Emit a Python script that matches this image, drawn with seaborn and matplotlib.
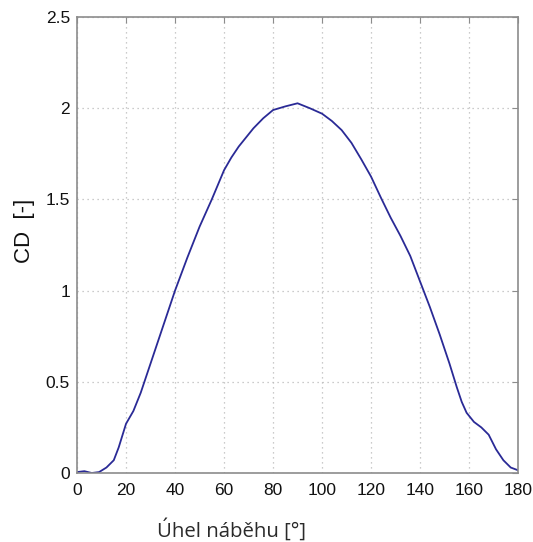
import pandas as pd
import matplotlib.pyplot as plt
import seaborn as sns

# Drag coefficient vs. angle of attack
angle = [0, 3, 6, 9, 12, 15, 17, 20, 23, 26, 30, 36, 40, 45, 50, 55, 60, 63,
         66, 69, 72, 76, 80, 85, 90, 95, 100, 104, 108, 112, 116, 120, 124,
         128, 132, 136, 140, 144, 148, 152, 155, 157, 159, 162, 165, 168, 171,
         174, 177, 180]
cd = [0.005, 0.01, 0.0, 0.005, 0.03, 0.07, 0.14, 0.27, 0.34, 0.44, 0.60, 0.84,
      1.00, 1.18, 1.35, 1.50, 1.66, 1.73, 1.79, 1.84, 1.89, 1.945, 1.99, 2.01,
      2.027, 2.00, 1.97, 1.93, 1.88, 1.81, 1.72, 1.625, 1.51, 1.40, 1.30,
      1.19, 1.05, 0.91, 0.76, 0.60, 0.47, 0.39, 0.33, 0.28, 0.25, 0.21, 0.13,
      0.07, 0.03, 0.015]

df = pd.DataFrame({'angle': angle, 'cd': cd})

sns.set_style("white")
plt.rcParams['font.family'] = ['Liberation Sans', 'DejaVu Sans']

fig = plt.figure(figsize=(5.33, 5.42), dpi=100)
ax = fig.add_axes([0.1445, 0.1273, 0.8275, 0.8413])

sns.lineplot(data=df, x='angle', y='cd', color='#2a2a96', linewidth=1.3, ax=ax)

ax.set_xlim(0, 180)
ax.set_ylim(0, 2.5)
ax.set_xticks(range(0, 181, 20))
ax.set_yticks([0, 0.5, 1, 1.5, 2, 2.5])
ax.set_yticklabels(['0', '0.5', '1', '1.5', '2', '2.5'])
ax.grid(True, linestyle=(0, (1, 3)), color='#bbbbbb', linewidth=0.9)

for s in ax.spines.values():
    s.set_color('#8c8c8c')
    s.set_linewidth(1.2)
ax.tick_params(direction='in', length=4, color='#8c8c8c', labelsize=12.5,
               top=True, right=True, labelcolor='#111111')
ax.tick_params(axis='x', pad=7.5)
ax.tick_params(axis='y', pad=5)

ax.set_xlabel('Úhel náběhu [°]', fontsize=14.7, family=['Open Sans', 'DejaVu Sans'],
              color='#2a2a2a')
ax.xaxis.label.set_va('baseline')
ax.xaxis.set_label_coords(0.351, -0.140)

ax.set_ylabel('CD  [-]', fontsize=16, color='#111111')
ax.yaxis.set_label_coords(-0.095, 0.531)

plt.savefig("out.png", dpi=100)
